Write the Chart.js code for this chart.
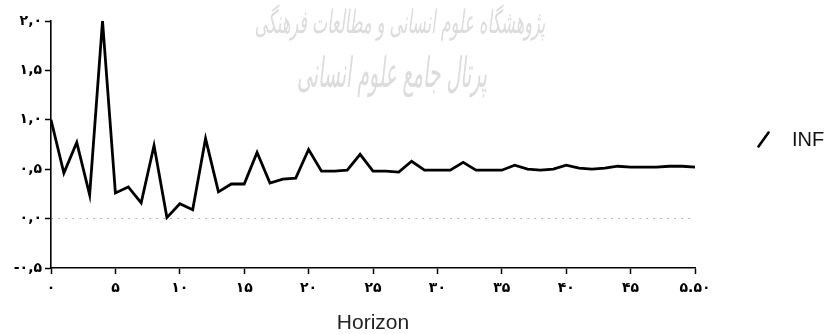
<!DOCTYPE html>
<html>
<head>
<meta charset="utf-8">
<script src="https://cdn.jsdelivr.net/npm/chart.js@4"></script>
<style>
  html, body { margin: 0; padding: 0; background: #fff; }
  #wrap { width: 827px; height: 334px; }
</style>
</head>
<body>
<div id="wrap"><canvas id="c" width="827" height="334"></canvas></div>
<script>
// ---- data ----
const horizons = [0,1,2,3,4,5,6,7,8,9,10,11,12,13,14,15,16,17,18,19,20,21,22,23,24,25,26,27,28,29,30,31,32,33,34,35,36,37,38,39,40,41,42,43,44,45,46,47,48,49,50];
const infValues = [1.00,0.46,0.77,0.24,2.00,0.26,0.32,0.16,0.74,0.01,0.15,0.09,0.81,0.27,0.35,0.35,0.67,0.36,0.40,0.41,0.70,0.48,0.48,0.49,0.65,0.48,0.48,0.47,0.58,0.49,0.49,0.49,0.57,0.49,0.49,0.49,0.54,0.50,0.49,0.50,0.54,0.51,0.50,0.51,0.53,0.52,0.52,0.52,0.53,0.53,0.52];
const xTickLabels = ['۰','۵','۱۰','۱۵','۲۰','۲۵','۳۰','۳۵','۴۰','۴۵','۵.۵۰'];
const yTickLabels = ['-۰,۵','۰,۰','۰,۵','۱,۰','۱,۵','۲,۰'];
const seriesLabel = 'INF';
const xTitle = 'Horizon';
const watermarkLines = ['پژوهشگاه علوم انسانی و مطالعات فرهنگی', 'پرتال جامع علوم انسانی'];

// ---- plugins ----
const watermarkPlugin = {
  id: 'watermark',
  beforeDatasetsDraw(chart) {
    const ctx = chart.ctx;
    const boxes = [
      { cx: 400, cy: 25, w: 290, sy: 2.0 },
      { cx: 392, cy: 76, w: 190, sy: 2.2 }
    ];
    watermarkLines.forEach((t, i) => {
      const b = boxes[i];
      ctx.save();
      ctx.fillStyle = '#dcdcdc';
      ctx.textAlign = 'center';
      ctx.textBaseline = 'middle';
      ctx.direction = 'rtl';
      ctx.font = 'italic 30px "DejaVu Sans"';
      const m = ctx.measureText(t).width;
      const size = 30 * b.w / m;
      ctx.font = 'italic ' + size.toFixed(1) + 'px "DejaVu Sans"';
      ctx.translate(b.cx, b.cy);
      ctx.scale(1, b.sy);
      ctx.fillText(t, 0, 0);
      ctx.restore();
    });
  }
};

const legendPlugin = {
  id: 'infLegend',
  afterDraw(chart) {
    const ctx = chart.ctx;
    const ds = chart.data.datasets[0];
    const a = chart.chartArea;
    const cx = a.right + 68.5, cy = a.top + 118.5;
    ctx.save();
    ctx.strokeStyle = ds.borderColor;
    ctx.lineWidth = 2.6;
    ctx.lineCap = 'round';
    ctx.beginPath();
    ctx.moveTo(cx - 5, cy + 7);
    ctx.lineTo(cx + 5, cy - 7);
    ctx.stroke();
    ctx.font = '20px "Liberation Sans"';
    ctx.fillStyle = '#111';
    ctx.textAlign = 'left';
    ctx.textBaseline = 'middle';
    ctx.fillText(ds.label, a.right + 97, cy + 0.5);
    ctx.restore();
  }
};

const tickFont = { family: '"DejaVu Sans"', size: 14, weight: 'bold' };

new Chart(document.getElementById('c'), {
  type: 'line',
  data: {
    datasets: [{
      label: seriesLabel,
      data: horizons.map((h, i) => ({ x: h, y: infValues[i] })),
      borderColor: '#000',
      borderWidth: 2.8,
      pointRadius: 0,
      pointStyle: 'line',
      tension: 0,
      fill: false
    }]
  },
  options: {
    responsive: false,
    animation: false,
    devicePixelRatio: 1,
    layout: { padding: { left: 0, right: 132, top: 21, bottom: 0 } },
    plugins: {
      legend: { display: false },
      tooltip: { enabled: false }
    },
    scales: {
      x: {
        type: 'linear',
        min: 0, max: 50,
        ticks: {
          stepSize: 5,
          autoSkip: false,
          maxRotation: 0,
          padding: 6,
          color: '#000',
          font: tickFont,
          callback: (v) => xTickLabels[Math.round(v / 5)]
        },
        grid: { drawOnChartArea: false, drawTicks: true, tickLength: 6, color: '#000', tickColor: '#000', tickWidth: 1.5 },
        border: { color: '#000', width: 1.6 },
        title: {
          display: true,
          text: xTitle,
          color: '#222',
          font: { family: '"Liberation Sans"', size: 21, lineHeight: 1.0 },
          padding: { top: 0, bottom: 0 }
        },
        afterFit: (s) => { s.height = 66; }
      },
      y: {
        min: -0.5, max: 2,
        ticks: {
          stepSize: 0.5,
          padding: 3,
          color: '#000',
          font: tickFont,
          callback: (v) => yTickLabels[Math.round((v + 0.5) / 0.5)]
        },
        grid: {
          drawOnChartArea: true,
          tickLength: 6,
          tickColor: '#000',
          tickWidth: 1.5,
          lineWidth: 1,
          color: (ctx) => (ctx.tick && ctx.tick.value === 0) ? '#777' : 'rgba(0,0,0,0)'
        },
        border: { color: '#000', width: 1.6, dash: [1, 6] },
        afterFit: (s) => { s.width = 51; }
      }
    }
  },
  plugins: [watermarkPlugin, legendPlugin]
});
</script>
</body>
</html>
